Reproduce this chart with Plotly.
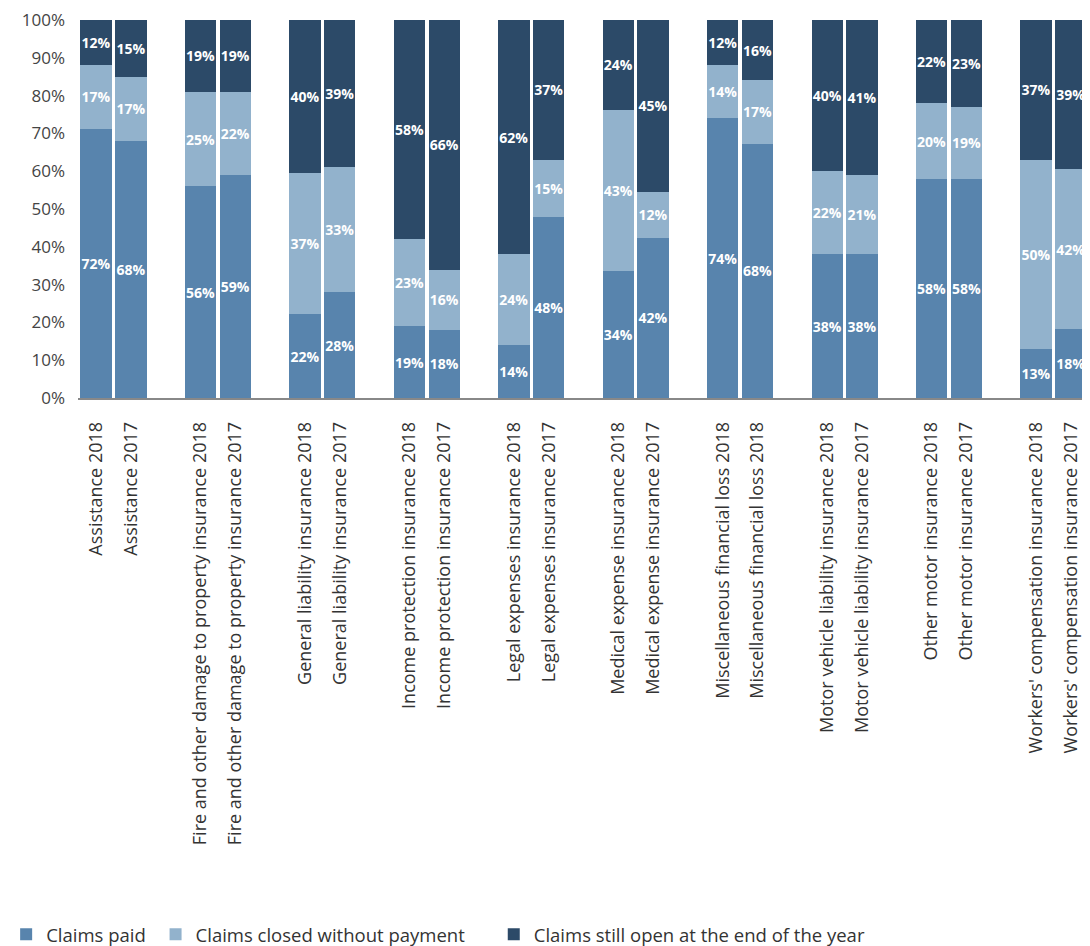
import plotly.graph_objects as go

labels = [
    "Assistance 2018", "Assistance 2017",
    "Fire and other damage to property insurance 2018", "Fire and other damage to property insurance 2017",
    "General liability insurance 2018", "General liability insurance 2017",
    "Income protection insurance 2018", "Income protection insurance 2017",
    "Legal expenses insurance 2018", "Legal expenses insurance 2017",
    "Medical expense insurance 2018", "Medical expense insurance 2017",
    "Miscellaneous financial loss 2018", "Miscellaneous financial loss 2018",
    "Motor vehicle liability insurance 2018", "Motor vehicle liability insurance 2017",
    "Other motor insurance 2018", "Other motor insurance 2017",
    "Workers' compensation insurance 2018", "Workers' compensation insurance 2017",
]
claims_paid = [72, 68, 56, 59, 22, 28, 19, 18, 14, 48, 34, 42, 74, 68, 38, 38, 58, 58, 13, 18]
claims_closed = [17, 17, 25, 22, 37, 33, 23, 16, 24, 15, 43, 12, 14, 17, 22, 21, 20, 19, 50, 42]
claims_open = [12, 15, 19, 19, 40, 39, 58, 66, 62, 37, 24, 45, 12, 16, 40, 41, 22, 23, 37, 39]
y_ticks = [0, 10, 20, 30, 40, 50, 60, 70, 80, 90, 100]

series = [
    ("Claims paid\u00a0", claims_paid, "#5884ad"),
    ("Claims closed without payment\u00a0\u00a0\u00a0\u00a0\u00a0", claims_closed, "#92b2cc"),
    ("Claims still open at the end of the year", claims_open, "#2c4a68"),
]

# two bars per group, one empty slot between groups
xpos = [3 * (i // 2) + (i % 2) for i in range(len(labels))]

fig = go.Figure()
for name, vals, color in series:
    fig.add_trace(go.Bar(
        x=xpos, y=vals, name=name,
        marker=dict(color=color, line=dict(width=0)),
        text=[f"{v}%" for v in vals],
        texttemplate="%{text}",
        textposition="inside", insidetextanchor="middle", textangle=0,
        textfont=dict(family="Open Sans", size=14, color="white", weight="bold"),
        hoverinfo="skip",
    ))

fig.update_layout(
    barmode="stack", barnorm="percent", bargap=0.1,
    width=1082, height=938,
    margin=dict(l=70, r=0, t=12, b=548, autoexpand=False),
    paper_bgcolor="white", plot_bgcolor="white",
    font=dict(family="Open Sans", color="#333333"),
    uniformtext=dict(minsize=14, mode="show"),
    showlegend=True,
    legend=dict(orientation="h", x=-0.071, xanchor="left", y=-1.42, yanchor="middle",
                font=dict(size=18.5, color="#333333"), traceorder="normal",
                itemwidth=30),
    xaxis=dict(
        tickmode="array", tickvals=xpos, ticktext=labels, tickangle=-90,
        range=[-0.52, 28.55], showgrid=False, zeroline=False,
        showline=True, linecolor="#888888", linewidth=1.5, ticks="",
        ticklabelstandoff=15,
        tickfont=dict(size=18, color="#333333"), automargin=False,
    ),
    yaxis=dict(
        range=[0, 100.02], tickmode="array", tickvals=y_ticks,
        ticktext=[f"{v}%" for v in y_ticks],
        showgrid=False, zeroline=False, showline=False, ticks="",
        ticklabelstandoff=12, ticklabeloverflow="allow",
        tickfont=dict(size=17, color="#444444"), automargin=False,
    ),
)

fig.write_html("out.html")
